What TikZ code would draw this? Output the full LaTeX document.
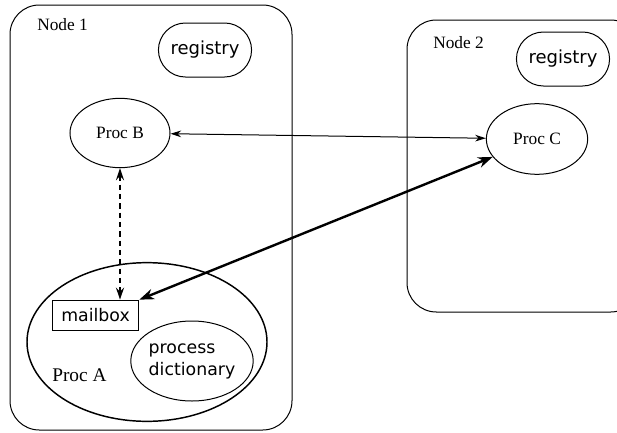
\documentclass[tikz,border=0pt]{standalone}
\usepackage{fontspec}
\setmainfont{Liberation Serif}
\setsansfont{DejaVu Sans}
\usetikzlibrary{arrows.meta,shapes.geometric,shapes.misc}

\begin{document}
\begin{tikzpicture}[x=0.75pt,y=-0.75pt,
    erlnode/.style={draw,line width=0.75pt,rounded corners=22pt},
    nodename/.style={anchor=base west,inner sep=0pt,font=\fontsize{13}{16}\selectfont},
    proc/.style={draw,ellipse,line width=0.75pt,inner sep=0pt,minimum width=75pt,minimum height=52pt,font=\fontsize{13}{16}\selectfont},
    registry/.style={draw,rounded rectangle,line width=0.75pt,minimum width=76.5pt,minimum height=40.5pt,font=\sffamily\fontsize{13.5}{16}\selectfont},
    msg/.style={<->,>={Stealth[length=8pt,width=5pt,inset=2.5pt]},line width=0.75pt}]

    \useasboundingbox (0,0) rectangle (617,432);
    \clip (0,0) rectangle (617,432);

    % the two erlang nodes
    \draw[erlnode] (10,5) rectangle (292,430);
    \draw[erlnode] (407,20) rectangle (640,312);
    \node[nodename] (n1) at (37,30) {Node 1};
    \node[nodename] (n2) at (433,48) {Node 2};

    \foreach \i/\x/\y in {1/205/50, 2/563/59}
        \node[registry] (reg_\i) at (\x,\y) {registry};

    % processes
    \node[proc] (procB) at (120,133) {Proc B};
    \node[proc,minimum width=76pt,minimum height=53pt] (procC) at (537,139) {Proc C};
    \node[proc,line width=1.1pt,minimum width=180pt,minimum height=119pt] (procA) at (147,342) {};
    \node[nodename,font=\fontsize{14.5}{16}\selectfont] (procAname) at (52,381) {Proc A};
    \node[draw,line width=0.75pt,minimum width=65pt,minimum height=23pt,font=\sffamily\fontsize{13}{16}\selectfont] (mailbox) at (95.5,315.5) {mailbox};
    \node[proc,minimum width=77pt,minimum height=60pt,align=left,font=\sffamily\fontsize{13}{16.5}\selectfont] (dict) at (192,361) {process\\dictionary};

    % messages
    \draw[msg] (procB) -- (procC);
    \draw[msg,line width=1.5pt,dash pattern=on 4pt off 3pt,>={Stealth[length=9pt,width=6pt,inset=3pt]}] (procB.south) -- (procB.south |- mailbox.north);
    \draw[msg,line width=1.8pt,>={Stealth[length=11pt,width=8pt,inset=3.5pt]}] (mailbox.north east) -- (procC);
\end{tikzpicture}
\end{document}
